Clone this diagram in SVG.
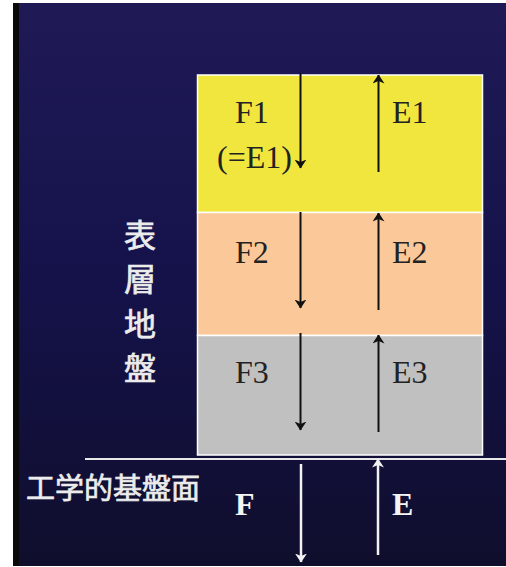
<svg xmlns="http://www.w3.org/2000/svg" width="506" height="567" viewBox="0 0 506 567">
<defs>
<linearGradient id="bg" x1="0" y1="0" x2="0" y2="1">
<stop offset="0" stop-color="#1f1a56"/>
<stop offset="0.5" stop-color="#15124a"/>
<stop offset="1" stop-color="#0f0e2c"/>
</linearGradient>
<marker id="ab" viewBox="0 0 9 12" refX="8.5" refY="6" markerWidth="9" markerHeight="12" markerUnits="userSpaceOnUse" orient="auto">
<path d="M0,0 L9,6 L0,12 L2.5,6 Z" fill="#111"/>
</marker>
<marker id="aw" viewBox="0 0 9 12" refX="8.5" refY="6" markerWidth="9" markerHeight="12" markerUnits="userSpaceOnUse" orient="auto">
<path d="M0,0 L9,6 L0,12 L2.5,6 Z" fill="#f2f2f2"/>
</marker>
</defs>
<style>
.lbl{font-family:"Liberation Serif","Times New Roman",serif;font-size:32px;fill:#222}
.wl{font-family:"Liberation Serif","Times New Roman",serif;font-size:32px;font-weight:bold;fill:#f4f4f4}
.cjk{font-family:"Noto Sans CJK JP","Noto Sans CJK SC",sans-serif;font-weight:normal;fill:#ececec;stroke:#ececec;stroke-width:0.7}
.blk{stroke:#111;stroke-width:2;fill:none}
.wht{stroke:#f2f2f2;stroke-width:2.5;fill:none}
.layer{stroke:#ffffff;stroke-width:1.5}
</style>
<rect x="0" y="0" width="506" height="567" fill="#ffffff"/>
<rect x="13" y="3" width="493" height="563" fill="url(#bg)"/>
<rect x="13" y="3" width="6" height="563" fill="#0a0a0a"/>

<g id="layer1">
<rect class="layer" x="197.5" y="75" width="285" height="137.5" fill="#f0e63e"/>
<text class="lbl" x="235" y="123">F1</text>
<text class="lbl" x="217" y="168">(=E1)</text>
<text class="lbl" x="392" y="123">E1</text>
</g>
<g id="layer2">
<rect class="layer" x="197.5" y="212.5" width="285" height="123" fill="#fbc999"/>
<text class="lbl" x="235" y="263">F2</text>
<text class="lbl" x="392" y="263">E2</text>
</g>
<g id="layer3">
<rect class="layer" x="197.5" y="335.5" width="285" height="119.5" fill="#c0c0c0"/>
<text class="lbl" x="235" y="383">F3</text>
<text class="lbl" x="392" y="383">E3</text>
</g>
<g id="surface-label">
<text class="cjk" font-size="32" x="140" y="247" text-anchor="middle">表</text>
<text class="cjk" font-size="32" x="140" y="291" text-anchor="middle">層</text>
<text class="cjk" font-size="32" x="140" y="336" text-anchor="middle">地</text>
<text class="cjk" font-size="32" x="140" y="380" text-anchor="middle">盤</text>
</g>
<g id="base">
<line x1="85" y1="459" x2="506" y2="459" stroke="#e8e8e8" stroke-width="1.8"/>
<text class="cjk" font-size="29" x="26" y="499">工学的基盤面</text>
<text class="wl" x="235" y="515">F</text>
<text class="wl" x="392" y="515">E</text>
</g>
<g id="connectors">
<line class="blk" x1="300.5" y1="73" x2="300.5" y2="168" marker-end="url(#ab)"/>
<line class="blk" x1="378.5" y1="172" x2="378.5" y2="75" marker-end="url(#ab)"/>
<line class="blk" x1="300.5" y1="212" x2="300.5" y2="308" marker-end="url(#ab)"/>
<line class="blk" x1="378.5" y1="310" x2="378.5" y2="213" marker-end="url(#ab)"/>
<line class="blk" x1="300.5" y1="333" x2="300.5" y2="430" marker-end="url(#ab)"/>
<line class="blk" x1="378.5" y1="432" x2="378.5" y2="335" marker-end="url(#ab)"/>
<line class="wht" x1="301" y1="464" x2="301" y2="562" marker-end="url(#aw)"/>
<line class="wht" x1="378" y1="555" x2="378" y2="459" marker-end="url(#aw)"/>
</g>
</svg>
